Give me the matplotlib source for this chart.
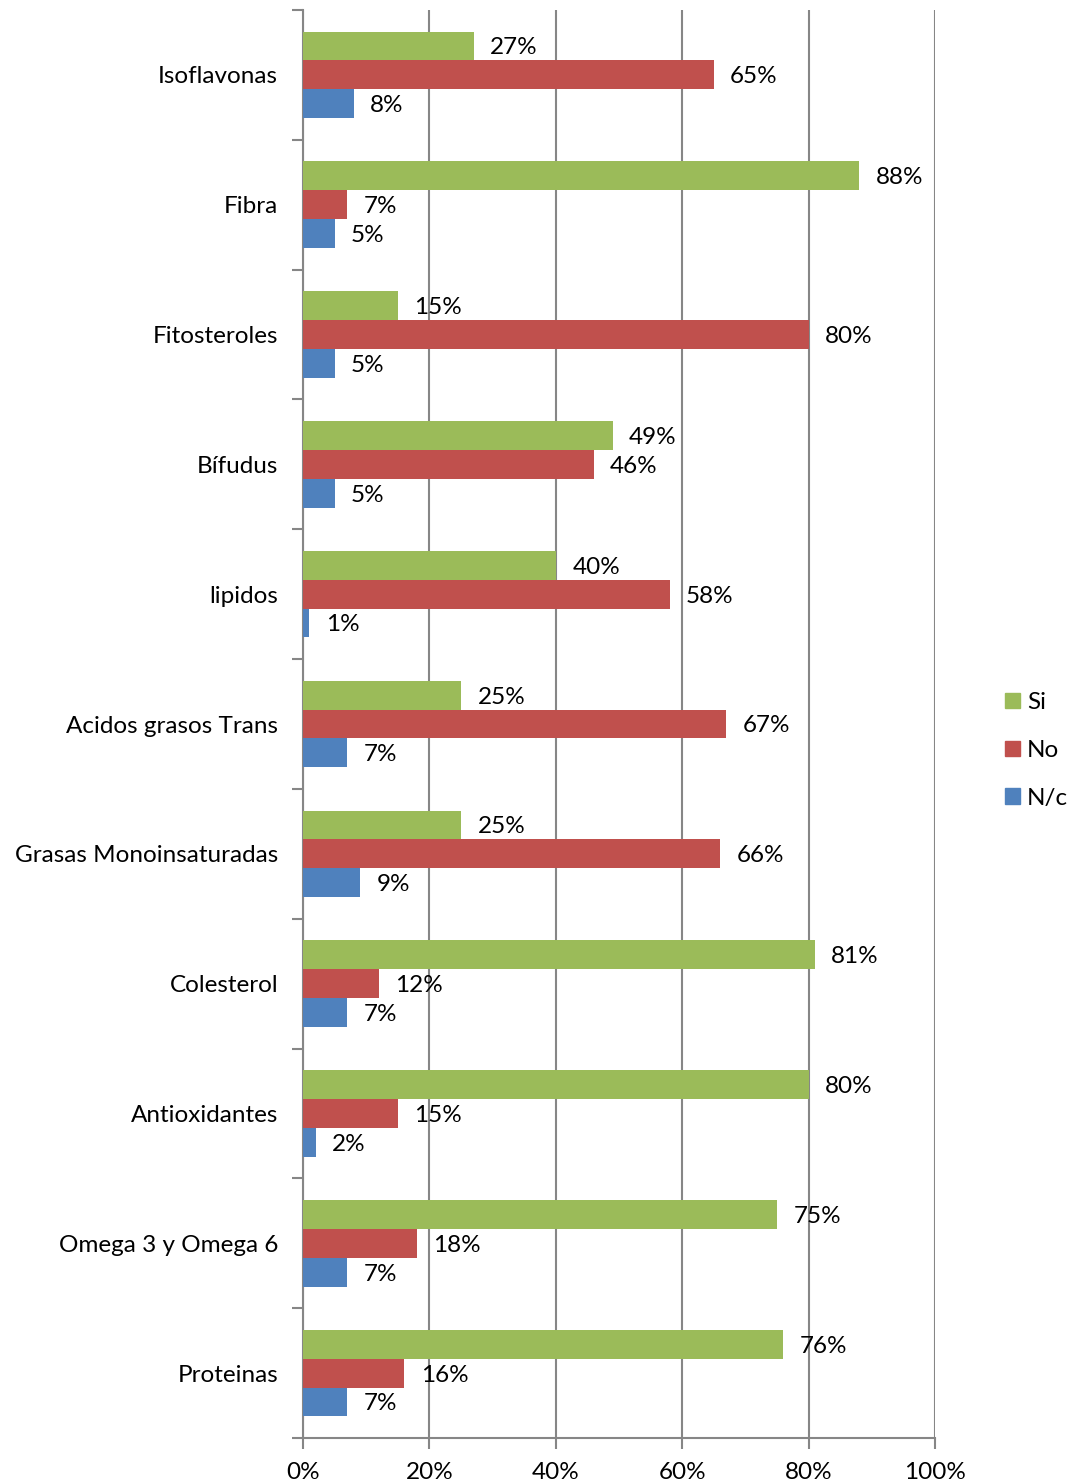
import matplotlib.pyplot as plt
from matplotlib.patches import Patch
import numpy as np

categories = ["Isoflavonas", "Fibra", "Fitosteroles", "Bífudus", "lipidos",
              "Acidos grasos Trans", "Grasas Monoinsaturadas", "Colesterol",
              "Antioxidantes", "Omega 3 y Omega 6", "Proteinas"]
si = [27, 88, 15, 49, 40, 25, 25, 81, 80, 75, 76]
no = [65, 7, 80, 46, 58, 67, 66, 12, 15, 18, 16]
nc = [8, 5, 5, 5, 1, 7, 9, 7, 2, 7, 7]

series = [("Si", si, "#9BBB59"), ("No", no, "#C0504D"), ("N/c", nc, "#4F81BD")]

plt.rcParams["font.family"] = ["Lato", "DejaVu Sans"]
fs = 17.5

fig = plt.figure(figsize=(10.73, 14.83), dpi=100)
ax = fig.add_axes([0.2824, 0.0303, 0.589, 0.963])

y = np.arange(len(categories))
h = 0.222
for k, (name, vals, col) in enumerate(series):
    pos = y + (k - 1) * h
    ax.barh(pos, vals, height=h, color=col, zorder=3)
    for p, v in zip(pos, vals):
        ax.text(v + 2.6, p + 0.015, f"{v}%", va="center", ha="left", fontsize=fs, zorder=4)

ax.set_xlim(0, 100)
ax.set_ylim(len(categories) - 0.5, -0.5)

# category labels centred, tick marks on the boundaries
ax.set_yticks(y)
ax.set_yticklabels(categories, fontsize=fs)
ax.tick_params(axis="y", length=0, pad=18)
ax.set_yticks(np.arange(len(categories) + 1) - 0.5, minor=True)
ax.tick_params(axis="y", which="minor", length=8, width=1.5, color="#868686", direction="out")

ax.set_xticks(np.arange(0, 101, 20))
ax.set_xticklabels([f"{t}%" for t in range(0, 101, 20)], fontsize=fs)
ax.tick_params(axis="x", length=8, width=1.5, color="#868686", direction="out", pad=9)

ax.grid(axis="x", color="#868686", linewidth=1.5, zorder=0)
for s in ["top", "right"]:
    ax.spines[s].set_visible(False)
for s in ["left", "bottom"]:
    ax.spines[s].set_color("#868686")
    ax.spines[s].set_linewidth(1.5)

handles = [Patch(color=c, label=n) for n, _, c in series]
fig.legend(handles=handles, loc="center left", bbox_to_anchor=(0.921, 0.494),
           frameon=False, fontsize=fs, handlelength=0.6, handleheight=0.6,
           handletextpad=0.3, labelspacing=1.1, borderpad=0.2)

fig.savefig("out.png", dpi=100)
